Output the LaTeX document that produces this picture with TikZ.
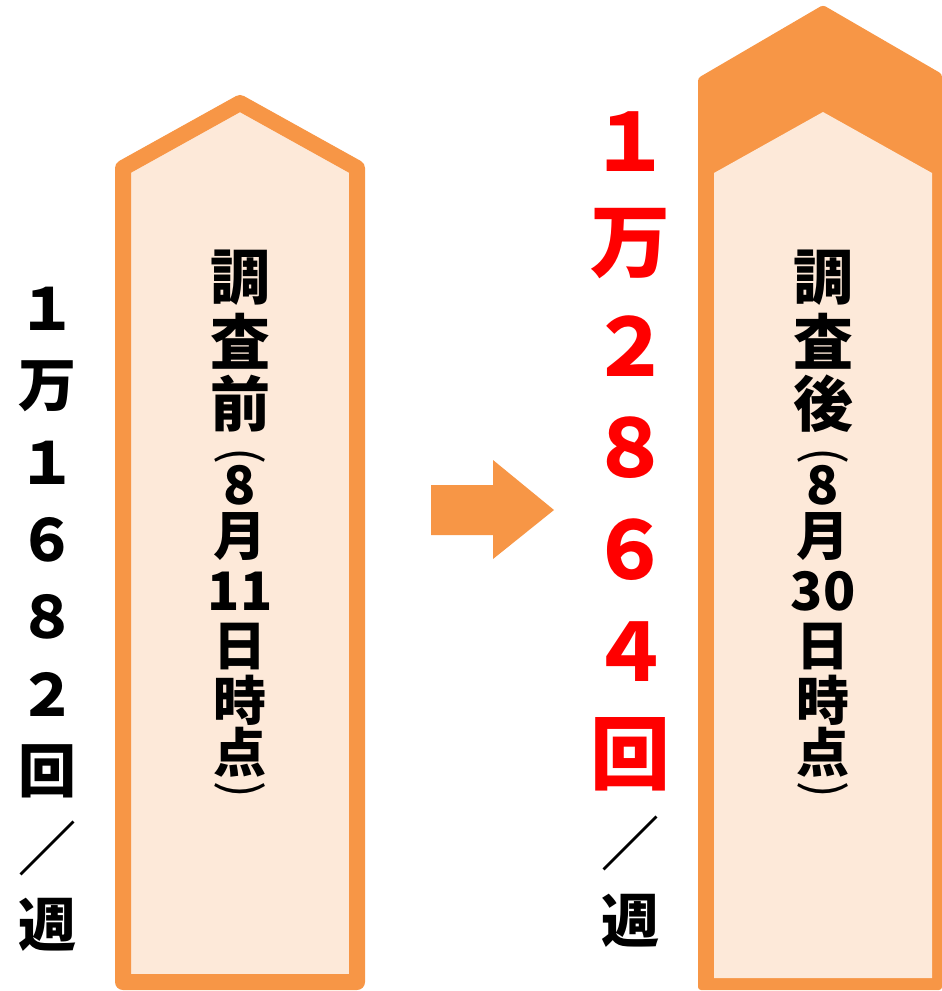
\documentclass[tikz,border=0pt]{standalone}
\usepackage{fontspec}
\setmainfont{Noto Sans CJK JP}
\usetikzlibrary{positioning}
\definecolor{orangeline}{HTML}{F79646}
\definecolor{orangefill}{HTML}{FDE9D9}
\tikzstyle{every node}=[inner sep=0pt]
\tikzstyle{weekchar}=[font=\fontsize{58}{58}\selectfont\bfseries]
\tikzstyle{redchar}=[font=\fontsize{80}{80}\selectfont\bfseries, text=red]
\tikzstyle{headchar}=[font=\fontsize{60}{60}\selectfont\bfseries]
\tikzstyle{datechar}=[font=\fontsize{53}{53}\selectfont\bfseries]
\tikzstyle{parenchar}=[font=\fontsize{50}{50}\selectfont, rotate=-90]

\begin{document}
\begin{tikzpicture}[x=1pt,y=-1pt]
\useasboundingbox (0,0) rectangle (942,991);

% before / after blocks
\draw [draw=orangeline, fill=orangefill, line width=16, line join=round]
  (123,982) -- (123,168) -- (240,103) -- (357,168) -- (357,982) -- cycle;
\fill [orangeline, rounded corners=3]
  (698,990) -- (698,78) -- (823,5) -- (942,74) -- (942,990) -- cycle;
\fill [orangefill]
  (714,978) -- (714,173) -- (823,112) -- (932,173) -- (932,978) -- cycle;

% middle arrow
\fill [orangeline] (431,485) -- (493,485) -- (493,460) -- (554,510)
  -- (493,559) -- (493,535) -- (431,535) -- cycle;

% counts
\foreach \c [count=\i] in {１,万,１,６,８,２,回,／,週}
  \node (before\i) [weekchar] at (48,{309+77*(\i-1)}) {\c};
\foreach \c [count=\i] in {１,万,２,８,６,４,回}
  \node (after\i) [redchar] at (630,{142+102*(\i-1)}) {\c};
\node (afterslash) [weekchar] at (630,843) {／};
\node (afterweek)  [weekchar] at (630,921) {週};

% labels in the blocks
\foreach \c/\y [count=\i] in {調/278,査/341,前/404}
  \node (prehead\i) [headchar] at (240,\y) {\c};
\foreach \c/\y [count=\i] in {調/278,査/341,後/404}
  \node (posthead\i) [headchar] at (823,\y) {\c};
\foreach \c/\y [count=\i] in {8/485,月/537,11/591,日/647,時/700,点/752}
  \node (predate\i) [datechar] at (240,\y) {\c};
\foreach \c/\y [count=\i] in {8/485,月/537,30/591,日/647,時/700,点/752}
  \node (postdate\i) [datechar] at (823,\y) {\c};
\node (preopen)   [parenchar] at (240,456) {(};
\node (preclose)  [parenchar] at (240,790) {)};
\node (postopen)  [parenchar] at (823,456) {(};
\node (postclose) [parenchar] at (823,790) {)};

\end{tikzpicture}
\end{document}
